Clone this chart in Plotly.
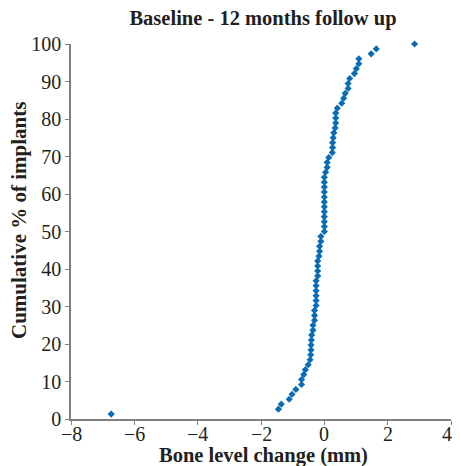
import plotly.graph_objects as go

bone_change = [-6.73, -1.45, -1.36, -1.11, -1.02, -0.90, -0.72, -0.72, -0.65, -0.60,
               -0.51, -0.45, -0.43, -0.42, -0.42, -0.41, -0.40, -0.36, -0.36, -0.31,
               -0.31, -0.31, -0.26, -0.26, -0.26, -0.26, -0.26, -0.26, -0.21, -0.21,
               -0.21, -0.21, -0.17, -0.15, -0.15, -0.11, -0.11, 0.0, 0.0, 0.0,
               0.0, 0.0, 0.0, 0.0, 0.0, 0.0, 0.0, 0.0, 0.0, 0.04,
               0.09, 0.09, 0.14, 0.25, 0.26, 0.26, 0.28, 0.30, 0.34, 0.36,
               0.36, 0.36, 0.41, 0.55, 0.61, 0.66, 0.75, 0.75, 0.80, 0.95,
               1.01, 1.09, 1.09, 1.48, 1.64, 2.85]
n = len(bone_change)
cum_pct = [(i + 1) / n * 100 for i in range(n)]

x_ticks = [-8, -6, -4, -2, 0, 2, 4]
x_tick_text = ["\u22128", "\u22126", "\u22124", "\u22122", "0", "2", "4"]
y_ticks = [0, 10, 20, 30, 40, 50, 60, 70, 80, 90, 100]

title_text = "Baseline - 12 months follow up"
x_title = "Bone level change (mm)"
y_title = "Cumulative % of implants"

font = "Liberation Serif, Times New Roman, serif"
ink = "#231f20"
axis_col = "#7f7f7f"

W, H = 452, 458
L, R, T, B = 63, 9, 36, 47
pw, ph = W - L - R, H - T - B

fig = go.Figure()
fig.add_trace(go.Scatter(
    x=bone_change, y=cum_pct, mode="markers",
    marker=dict(symbol="diamond", size=5.5, color="#0a6cb5"),
    showlegend=False, cliponaxis=False,
))

annotations = [
    dict(text="<b>" + x_title + "</b>", xref="paper", yref="paper",
         x=(255 - L) / pw, y=(H - B - 447) / ph, xanchor="center", yanchor="middle",
         showarrow=False, font=dict(size=20.5, color=ink)),
    dict(text="<b>" + y_title + "</b>", xref="paper", yref="paper",
         x=(11 - L) / pw, y=(H - B - 213) / ph, xanchor="center", yanchor="middle",
         textangle=-90, showarrow=False, font=dict(size=21, color=ink)),
]
for v, t in zip(x_ticks, x_tick_text):
    annotations.append(dict(
        text=t, x=v, xref="x", y=0, yref="paper", yshift=-15,
        xanchor="center", yanchor="middle", showarrow=False,
        xshift=(-4 if v == x_ticks[-1] else 0),
        font=dict(size=20, color=ink),
    ))

fig.update_layout(
    width=W, height=H,
    margin=dict(l=L, r=R, t=T, b=B),
    paper_bgcolor="white", plot_bgcolor="white",
    font=dict(family=font, size=20, color=ink),
    title=dict(text="<b>" + title_text + "</b>", x=255 / W, xanchor="center",
               xref="container", y=1 - 10 / H, yanchor="middle", yref="container",
               font=dict(size=20.5, color=ink)),
    annotations=annotations,
)
fig.update_xaxes(
    range=[-8, 4], tickvals=x_ticks, showticklabels=False,
    showline=True, linecolor=axis_col, linewidth=1.5,
    ticks="outside", ticklen=4, tickcolor=axis_col, tickwidth=1.2,
    showgrid=False, zeroline=False, automargin=False,
)
fig.update_yaxes(
    range=[0, 100], tickvals=y_ticks,
    showline=True, linecolor=axis_col, linewidth=1.5,
    ticks="outside", ticklen=4, tickcolor=axis_col, tickwidth=1.2,
    showgrid=False, zeroline=False, automargin=False,
    tickfont=dict(size=20, color=ink), ticklabeloverflow="allow",
)

fig.write_html("out.html")
